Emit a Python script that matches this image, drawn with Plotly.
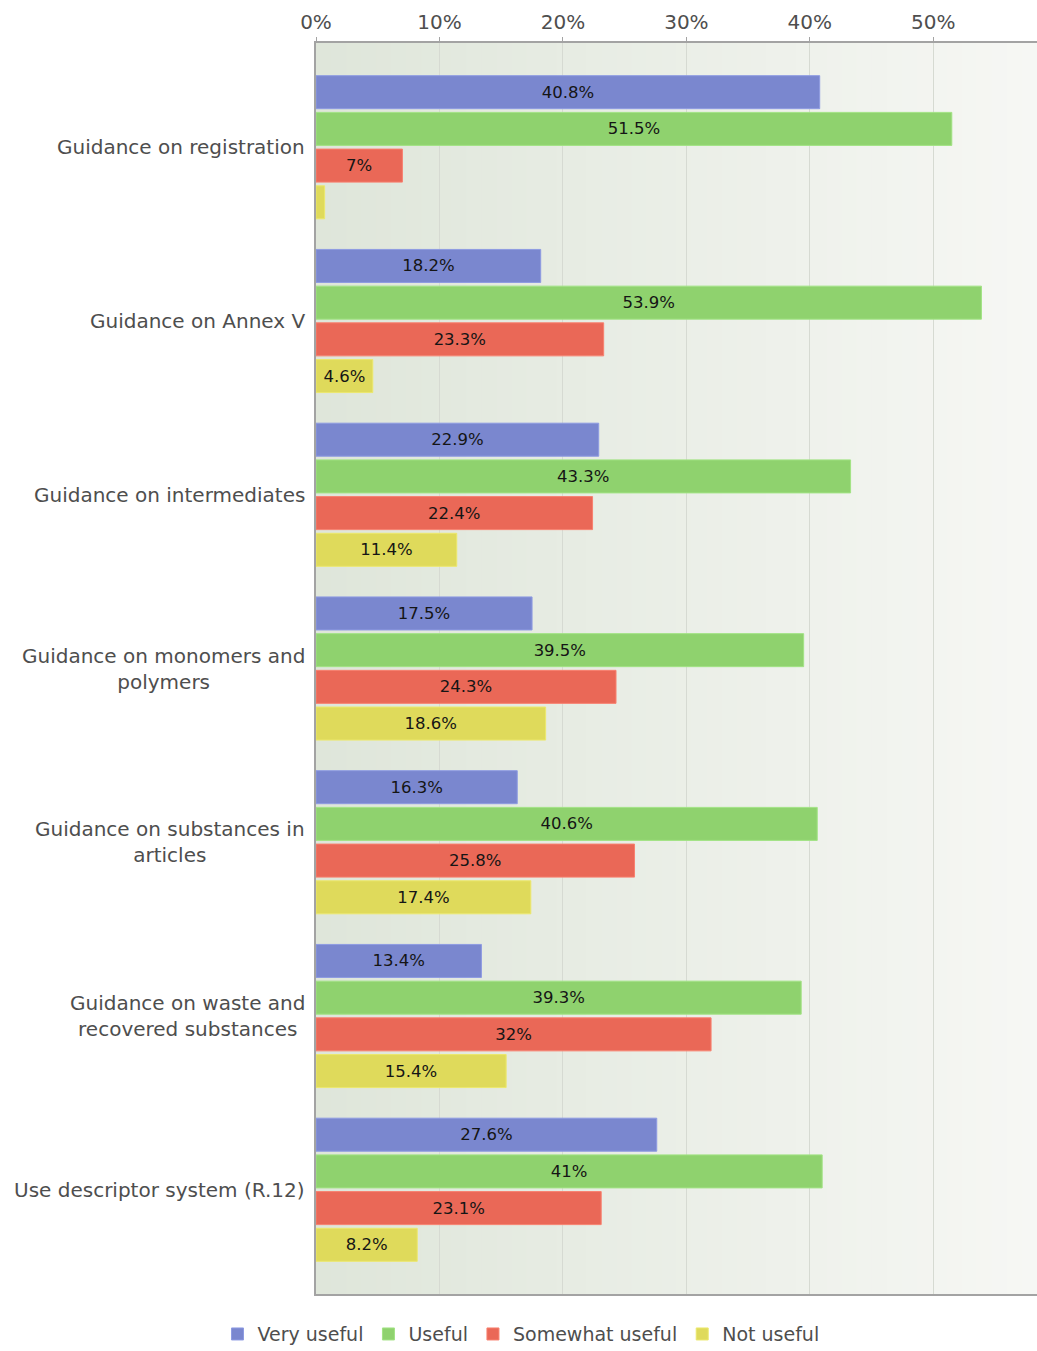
import plotly.graph_objects as go

# Survey results: usefulness of each guidance document (% of respondents)
categories = [
    "Guidance on registration",
    "Guidance on Annex V",
    "Guidance on intermediates",
    "Guidance on monomers and<br>polymers",
    "Guidance on substances in<br>articles",
    "Guidance on waste and<br>recovered substances",
    "Use descriptor system (R.12)",
]
very_useful = [40.8, 18.2, 22.9, 17.5, 16.3, 13.4, 27.6]
useful = [51.5, 53.9, 43.3, 39.5, 40.6, 39.3, 41]
somewhat_useful = [7, 23.3, 22.4, 24.3, 25.8, 32, 23.1]
not_useful = [0.7, 4.6, 11.4, 18.6, 17.4, 15.4, 8.2]

series_names = ["Very useful", "Useful", "Somewhat useful", "Not useful"]
series_values = [very_useful, useful, somewhat_useful, not_useful]
series_colors = ["#7a87cf", "#8fd26e", "#ea6857", "#dfda5b"]
series_edges = ["#8e9be2", "#a2e384", "#f8806f", "#ece86c"]

tick_values = [0, 10, 20, 30, 40, 50]
tick_labels = ["0%", "10%", "20%", "30%", "40%", "50%"]

LABEL_FONT = "DejaVu Sans"
TEXT_COLOR = "#4e4e4e"

fig = go.Figure()

for name, vals, col, edge in zip(series_names, series_values, series_colors, series_edges):
    # labels too small to fit inside a sliver of a bar are left blank
    labels = [f"{v:g}%" if v >= 2 else "" for v in vals]
    fig.add_trace(go.Bar(
        name=name,
        x=vals,
        y=categories,
        orientation="h",
        marker=dict(color=col, line=dict(color=edge, width=1)),
        text=labels,
        textposition="inside",
        insidetextanchor="middle",
        textangle=0,
        textfont=dict(family=LABEL_FONT, size=16.5, color="#151515"),
        hovertemplate="%{y}: %{x}%<extra>" + name + "</extra>",
    ))

# soft left-to-right background shading of the plotting area
# (each band runs to the right edge so neighbouring bands overlap without seams)
n_bands = 48
c0 = (223, 230, 218)
c1 = (246, 247, 244)
shapes = []
for i in range(n_bands):
    t = i / (n_bands - 1)
    r, g, b = (round(a + (bb - a) * t) for a, bb in zip(c0, c1))
    shapes.append(dict(
        type="rect", xref="paper", yref="paper",
        x0=i / n_bands, x1=1, y0=0, y1=1,
        fillcolor=f"rgb({r},{g},{b})", line=dict(width=0), layer="below",
    ))

# category labels, centred line-by-line to the left of the axis
annotations = []
for cat in categories:
    annotations.append(dict(
        xref="paper", yref="y", x=-0.012, y=cat,
        text=cat, showarrow=False, xanchor="right", yanchor="middle",
        align="center",
        font=dict(family=LABEL_FONT, size=20, color=TEXT_COLOR),
    ))

fig.update_layout(
    width=1037,
    height=1351,
    margin=dict(l=316, r=0, t=43, b=57),
    paper_bgcolor="white",
    plot_bgcolor="white",
    barmode="group",
    bargap=0.155,
    bargroupgap=0.1,
    shapes=shapes,
    annotations=annotations,
    showlegend=True,
    legend=dict(
        orientation="h",
        xref="container", yref="container",
        x=0.5024, xanchor="center",
        y=0.0125, yanchor="middle",
        font=dict(family=LABEL_FONT, size=19, color=TEXT_COLOR),
        itemwidth=30,
        traceorder="normal",
    ),
    xaxis=dict(
        side="top",
        range=[0, 58.4],
        tickvals=tick_values,
        ticktext=tick_labels,
        tickfont=dict(family=LABEL_FONT, size=20, color=TEXT_COLOR),
        showgrid=True,
        gridcolor="#d6dad2",
        gridwidth=1,
        showline=True,
        linecolor="#a3a3a3",
        linewidth=1.5,
        mirror=True,
        ticks="outside",
        ticklen=4,
        tickcolor="#a3a3a3",
        zeroline=False,
        fixedrange=True,
    ),
    yaxis=dict(
        range=[6.6, -0.6],
        showticklabels=False,
        showgrid=False,
        showline=True,
        linecolor="#a3a3a3",
        linewidth=1.5,
        ticks="",
        zeroline=False,
        fixedrange=True,
    ),
)

fig.write_html("out.html")
